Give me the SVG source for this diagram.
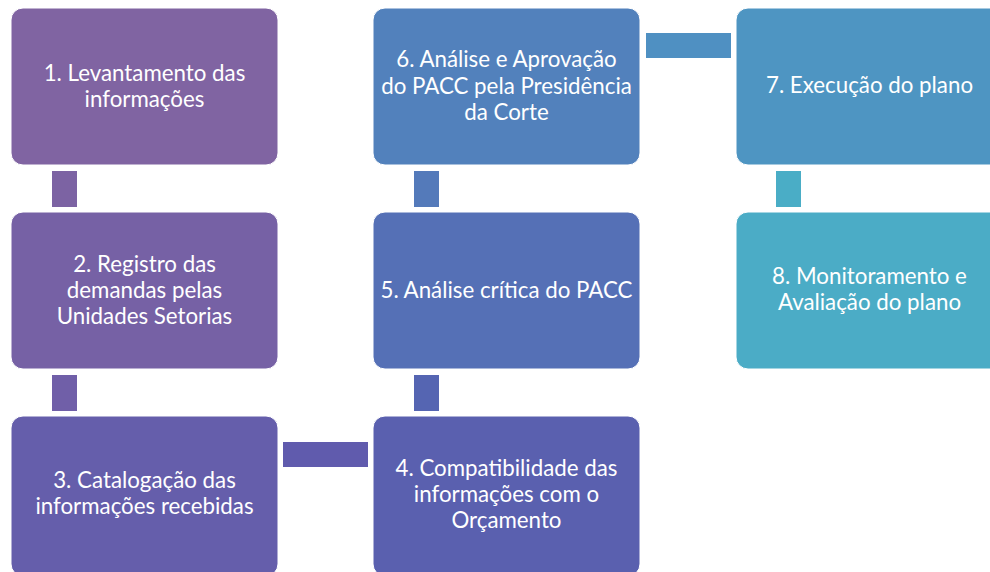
<svg xmlns="http://www.w3.org/2000/svg" width="990" height="572" viewBox="0 0 990 572">
<style>
.b{stroke:#ffffff;stroke-width:1}
.t{font-family:Lato,"Liberation Sans",sans-serif;font-size:22.3px;fill:#ffffff;text-anchor:middle}
</style>
<rect width="990" height="572" fill="#ffffff"/>
<g id="connectors">
<rect x="52" y="171" width="25" height="36" fill="#7C63A3"/>
<rect x="52" y="375" width="25" height="36" fill="#705FA8"/>
<rect x="283" y="442" width="85" height="25" fill="#605BAD"/>
<rect x="414" y="375" width="25" height="36" fill="#5565B2"/>
<rect x="414" y="171" width="25" height="36" fill="#547ABA"/>
<rect x="646" y="33" width="85" height="25" fill="#4F90C2"/>
<rect x="776" y="171" width="25" height="36" fill="#4AADC6"/>
</g>
<g id="n1"><rect class="b" x="11" y="8" width="267" height="157" rx="12" fill="#8064A2"/>
<text class="t" x="144.5" y="81">1. Levantamento das</text><text class="t" x="144.5" y="107">informações</text></g>
<g id="n2"><rect class="b" x="11" y="212" width="267" height="157" rx="12" fill="#7661A5"/>
<text class="t" x="144.5" y="272">2. Registro das</text><text class="t" x="144.5" y="298">demandas pelas</text><text class="t" x="144.5" y="324">Unidades Setorias</text></g>
<g id="n3"><rect class="b" x="11" y="416" width="267" height="160" rx="12" fill="#655EAB"/>
<text class="t" x="144.5" y="488">3. Catalogação das</text><text class="t" x="144.5" y="514">informações recebidas</text></g>
<g id="n4"><rect class="b" x="373" y="416" width="267" height="160" rx="12" fill="#5A60AF"/>
<text class="t" x="506.5" y="476">4. Compatibilidade das</text><text class="t" x="506.5" y="502">informações com o</text><text class="t" x="506.5" y="528">Orçamento</text></g>
<g id="n5"><rect class="b" x="373" y="212" width="267" height="157" rx="12" fill="#5570B6"/>
<text class="t" x="506.5" y="298">5. Análise crítica do PACC</text></g>
<g id="n6"><rect class="b" x="373" y="8" width="267" height="157" rx="12" fill="#5281BC"/>
<text class="t" x="506.5" y="67">6. Análise e Aprovação</text><text class="t" x="506.5" y="94">do PACC pela Presidência</text><text class="t" x="506.5" y="120">da Corte</text></g>
<g id="n7"><rect class="b" x="736" y="8" width="267" height="157" rx="12" fill="#4E95C2"/>
<text class="t" x="869.5" y="93">7. Execução do plano</text></g>
<g id="n8"><rect class="b" x="736" y="212" width="267" height="157" rx="12" fill="#4BACC6"/>
<text class="t" x="869.5" y="284">8. Monitoramento e</text><text class="t" x="869.5" y="310">Avaliação do plano</text></g>
</svg>
